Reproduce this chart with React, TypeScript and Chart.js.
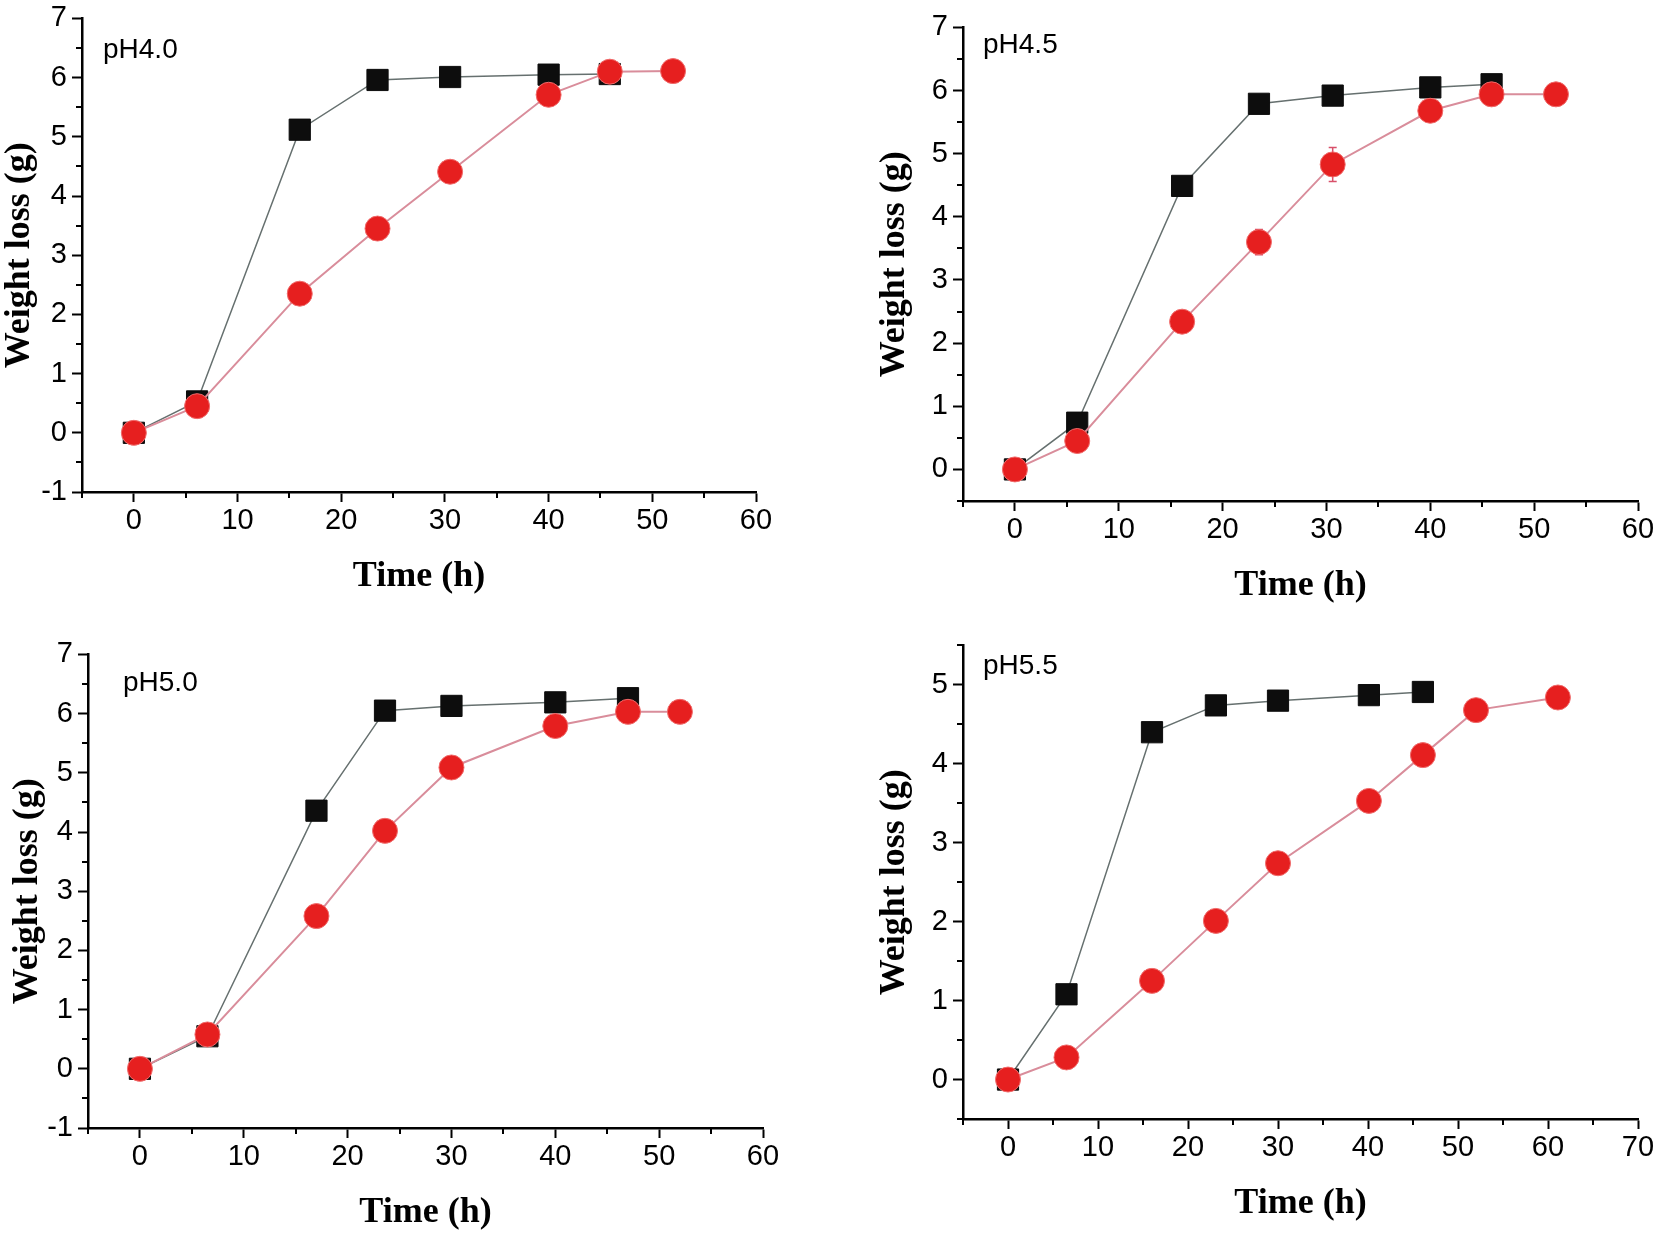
import { useEffect, useRef } from 'react';
import { Chart, registerables } from 'chart.js';

Chart.register(...registerables);

// pH 4.0
const ph40SquareTime = [0, 6.1, 16, 23.5, 30.5, 40, 45.9];
const ph40SquareLoss = [0, 0.53, 5.12, 5.96, 6.01, 6.05, 6.06];
const ph40CircleTime = [0, 6.1, 16, 23.5, 30.5, 40, 45.9, 52];
const ph40CircleLoss = [0, 0.45, 2.35, 3.45, 4.41, 5.71, 6.1, 6.11];
const ph40CircleErr = [0, 0.05, 0.05, 0.05, 0.08, 0.12, 0.08, 0.04];

// pH 4.5
const ph45SquareTime = [0, 6, 16.1, 23.5, 30.6, 40, 45.9];
const ph45SquareLoss = [0, 0.74, 4.49, 5.79, 5.92, 6.05, 6.1];
const ph45CircleTime = [0, 6, 16.1, 23.5, 30.6, 40, 45.9, 52.1];
const ph45CircleLoss = [0, 0.45, 2.34, 3.6, 4.83, 5.68, 5.94, 5.94];
const ph45CircleErr = [0, 0.03, 0.05, 0.2, 0.27, 0.06, 0.1, 0.04];

// pH 5.0
const ph50SquareTime = [0, 6.5, 17, 23.6, 30, 40, 47];
const ph50SquareLoss = [0, 0.55, 4.36, 6.05, 6.13, 6.19, 6.26];
const ph50CircleTime = [0, 6.5, 17, 23.6, 30, 40, 47, 52];
const ph50CircleLoss = [0, 0.58, 2.58, 4.02, 5.09, 5.79, 6.03, 6.03];
const ph50CircleErr = [0, 0.05, 0.05, 0.05, 0.05, 0.05, 0.08, 0.04];

// pH 5.5
const ph55SquareTime = [0, 6.5, 16, 23.1, 30, 40.1, 46.1];
const ph55SquareLoss = [0, 1.08, 4.4, 4.74, 4.8, 4.87, 4.91];
const ph55CircleTime = [0, 6.5, 16, 23.1, 30, 40.1, 46.1, 52, 61.1];
const ph55CircleLoss = [0, 0.28, 1.25, 2.01, 2.74, 3.53, 4.11, 4.68, 4.84];
const ph55CircleErr = [0, 0.03, 0.03, 0.03, 0.03, 0.04, 0.05, 0.04, 0.04];

const panelLabels = ['pH4.0', 'pH4.5', 'pH5.0', 'pH5.5'];
const xTitle = 'Time (h)';
const yTitle = 'Weight loss (g)';

const Y_AXIS_W = 90;
const X_AXIS_H = 110;
const PAD_TOP = 20;
const PAD_RIGHT = 20;
const MAJOR_TICK = 10;
const MINOR_TICK = 6;

interface PanelCfg {
  label: string;
  squareT: number[];
  squareY: number[];
  circleT: number[];
  circleY: number[];
  circleErr: number[];
  xMax: number;
  yMin: number;
  yMax: number;
  plot: { left: number; right: number; top: number; bottom: number };
  yTitleOffset: number;
  labelDx: number;
  labelDy: number;
}

const panels: PanelCfg[] = [
  {
    label: panelLabels[0],
    squareT: ph40SquareTime, squareY: ph40SquareLoss,
    circleT: ph40CircleTime, circleY: ph40CircleLoss, circleErr: ph40CircleErr,
    xMax: 60, yMin: -1, yMax: 7,
    plot: { left: 82, right: 756, top: 16, bottom: 492 },
    yTitleOffset: 28, labelDx: 21, labelDy: 32,
  },
  {
    label: panelLabels[1],
    squareT: ph45SquareTime, squareY: ph45SquareLoss,
    circleT: ph45CircleTime, circleY: ph45CircleLoss, circleErr: ph45CircleErr,
    xMax: 60, yMin: -0.5, yMax: 7,
    plot: { left: 963, right: 1638, top: 25, bottom: 501 },
    yTitleOffset: 22, labelDx: 20, labelDy: 18,
  },
  {
    label: panelLabels[2],
    squareT: ph50SquareTime, squareY: ph50SquareLoss,
    circleT: ph50CircleTime, circleY: ph50CircleLoss, circleErr: ph50CircleErr,
    xMax: 60, yMin: -1, yMax: 7,
    plot: { left: 88, right: 763, top: 652, bottom: 1128 },
    yTitleOffset: 30, labelDx: 35, labelDy: 29,
  },
  {
    label: panelLabels[3],
    squareT: ph55SquareTime, squareY: ph55SquareLoss,
    circleT: ph55CircleTime, circleY: ph55CircleLoss, circleErr: ph55CircleErr,
    xMax: 70, yMin: -0.5, yMax: 5.5,
    plot: { left: 963, right: 1638, top: 643, bottom: 1119 },
    yTitleOffset: 22, labelDx: 20, labelDy: 21,
  },
];

const zip = (xs: number[], ys: number[]) => xs.map((x, i) => ({ x, y: ys[i] }));

const isMajorX = (v: number) => v % 10 === 0;
const isMajorY = (v: number) => Number.isInteger(v);

// vertical error bars, drawn under the markers
const errorBars = {
  id: 'errorBars',
  beforeDatasetsDraw(chart: any) {
    const { ctx } = chart;
    chart.data.datasets.forEach((ds: any, di: number) => {
      if (!ds.errors) return;
      const meta = chart.getDatasetMeta(di);
      const yScale = chart.scales.y;
      ctx.save();
      ctx.strokeStyle = '#d8506a';
      ctx.lineWidth = 1.5;
      meta.data.forEach((pt: any, i: number) => {
        const e = ds.errors[i];
        if (!e) return;
        const v = ds.data[i].y;
        const y1 = yScale.getPixelForValue(v + e);
        const y2 = yScale.getPixelForValue(v - e);
        ctx.beginPath();
        ctx.moveTo(pt.x, y1);
        ctx.lineTo(pt.x, y2);
        ctx.moveTo(pt.x - 4, y1);
        ctx.lineTo(pt.x + 4, y1);
        ctx.moveTo(pt.x - 4, y2);
        ctx.lineTo(pt.x + 4, y2);
        ctx.stroke();
      });
      ctx.restore();
    });
  },
};

// shorter minor ticks (the scale only draws the major ones)
const minorTicks = {
  id: 'minorTicks',
  afterDraw(chart: any) {
    const { ctx, scales } = chart;
    const xs = scales.x;
    const ys = scales.y;
    ctx.save();
    ctx.strokeStyle = '#000';
    ctx.lineWidth = 2;
    ctx.beginPath();
    xs.ticks.forEach((t: any) => {
      if (isMajorX(t.value)) return;
      const px = Math.round(xs.getPixelForValue(t.value));
      ctx.moveTo(px, xs.top);
      ctx.lineTo(px, xs.top + MINOR_TICK);
    });
    ys.ticks.forEach((t: any) => {
      if (isMajorY(t.value)) return;
      const py = Math.round(ys.getPixelForValue(t.value));
      ctx.moveTo(ys.right, py);
      ctx.lineTo(ys.right - MINOR_TICK, py);
    });
    ctx.stroke();
    ctx.restore();
  },
};

const panelLabel = {
  id: 'panelLabel',
  afterDraw(chart: any, _args: any, opts: any) {
    const { ctx, chartArea } = chart;
    ctx.save();
    ctx.fillStyle = '#000';
    ctx.font = '28px "Liberation Sans", Arial, sans-serif';
    ctx.textAlign = 'left';
    ctx.textBaseline = 'middle';
    ctx.fillText(opts.text, chartArea.left + opts.dx, chartArea.top + opts.dy);
    ctx.restore();
  },
};

function Panel({ cfg }: { cfg: PanelCfg }) {
  const canvasRef = useRef<HTMLCanvasElement>(null);
  const chartRef = useRef<any>(null);

  const width = Y_AXIS_W + (cfg.plot.right - cfg.plot.left) + PAD_RIGHT;
  const height = PAD_TOP + (cfg.plot.bottom - cfg.plot.top) + X_AXIS_H;
  const left = cfg.plot.left - Y_AXIS_W;
  const top = cfg.plot.top - PAD_TOP;

  useEffect(() => {
    if (!canvasRef.current) return;
    if (chartRef.current) chartRef.current.destroy();

    const tickFont = { family: '"Liberation Sans", Arial, sans-serif', size: 29 };
    const titleFont = { family: '"Liberation Serif", "Times New Roman", serif', size: 36, weight: 'bold' as const, lineHeight: 1 };

    chartRef.current = new Chart(canvasRef.current, {
      type: 'line',
      data: {
        datasets: [
          {
            label: 'circle',
            data: zip(cfg.circleT, cfg.circleY),
            borderColor: '#d98d9b',
            borderWidth: 2,
            pointStyle: 'circle',
            pointRadius: 12.5,
            pointHoverRadius: 12.5,
            pointBackgroundColor: '#e61f1f',
            pointBorderColor: '#f06a6a',
            pointBorderWidth: 1,
            order: 1,
            errors: cfg.circleErr,
          } as any,
          {
            label: 'square',
            data: zip(cfg.squareT, cfg.squareY),
            borderColor: '#66706f',
            borderWidth: 1.5,
            pointStyle: 'rect',
            pointRadius: 15,
            pointHoverRadius: 15,
            pointBackgroundColor: '#0d0d0d',
            pointBorderColor: '#0d0d0d',
            pointBorderWidth: 1,
            order: 2,
          },
        ],
      },
      options: {
        responsive: false,
        animation: false,
        layout: { padding: { top: PAD_TOP, right: PAD_RIGHT, left: 0, bottom: 0 } },
        plugins: {
          legend: { display: false },
          tooltip: { enabled: false },
          panelLabel: { text: cfg.label, dx: cfg.labelDx, dy: cfg.labelDy },
        } as any,
        scales: {
          x: {
            type: 'linear',
            min: -5,
            max: cfg.xMax,
            afterFit: (s: any) => { s.height = X_AXIS_H; },
            border: { display: true, color: '#000', width: 2.5 },
            grid: {
              drawOnChartArea: false,
              drawTicks: true,
              tickLength: MAJOR_TICK,
              tickWidth: 2,
              tickColor: (c: any) => (c.tick && isMajorX(c.tick.value) ? '#000' : 'rgba(0,0,0,0)'),
            },
            ticks: {
              stepSize: 5,
              autoSkip: false,
              maxRotation: 0,
              padding: 2,
              color: '#000',
              font: tickFont,
              callback: (v: any) => (isMajorX(Number(v)) ? String(v) : ''),
            },
            title: { display: true, text: xTitle, color: '#000', font: titleFont, padding: { top: 0, bottom: 7 } },
          },
          y: {
            type: 'linear',
            min: cfg.yMin,
            max: cfg.yMax,
            afterFit: (s: any) => { s.width = Y_AXIS_W; },
            border: { display: true, color: '#000', width: 2.5 },
            grid: {
              drawOnChartArea: false,
              drawTicks: true,
              tickLength: MAJOR_TICK,
              tickWidth: 2,
              tickColor: (c: any) => (c.tick && isMajorY(c.tick.value) ? '#000' : 'rgba(0,0,0,0)'),
            },
            ticks: {
              stepSize: 0.5,
              autoSkip: false,
              padding: 5,
              color: '#000',
              font: tickFont,
              callback: (v: any) => (isMajorY(Number(v)) ? String(v) : ''),
            },
            title: { display: true, text: yTitle, color: '#000', font: titleFont, padding: { top: cfg.yTitleOffset - 18, bottom: 0 } },
          },
        },
      },
      plugins: [errorBars, minorTicks, panelLabel],
    });

    return () => {
      if (chartRef.current) {
        chartRef.current.destroy();
        chartRef.current = null;
      }
    };
  }, [cfg]);

  return (
    <canvas
      ref={canvasRef}
      width={width}
      height={height}
      style={{ position: 'absolute', left, top, width, height }}
    />
  );
}

export default function App() {
  return (
    <div
      style={{
        position: 'absolute',
        left: 0,
        top: 0,
        width: 1654,
        height: 1233,
        overflow: 'hidden',
        background: '#fff',
      }}
    >
      {panels.map((p) => (
        <Panel key={p.label} cfg={p} />
      ))}
    </div>
  );
}
